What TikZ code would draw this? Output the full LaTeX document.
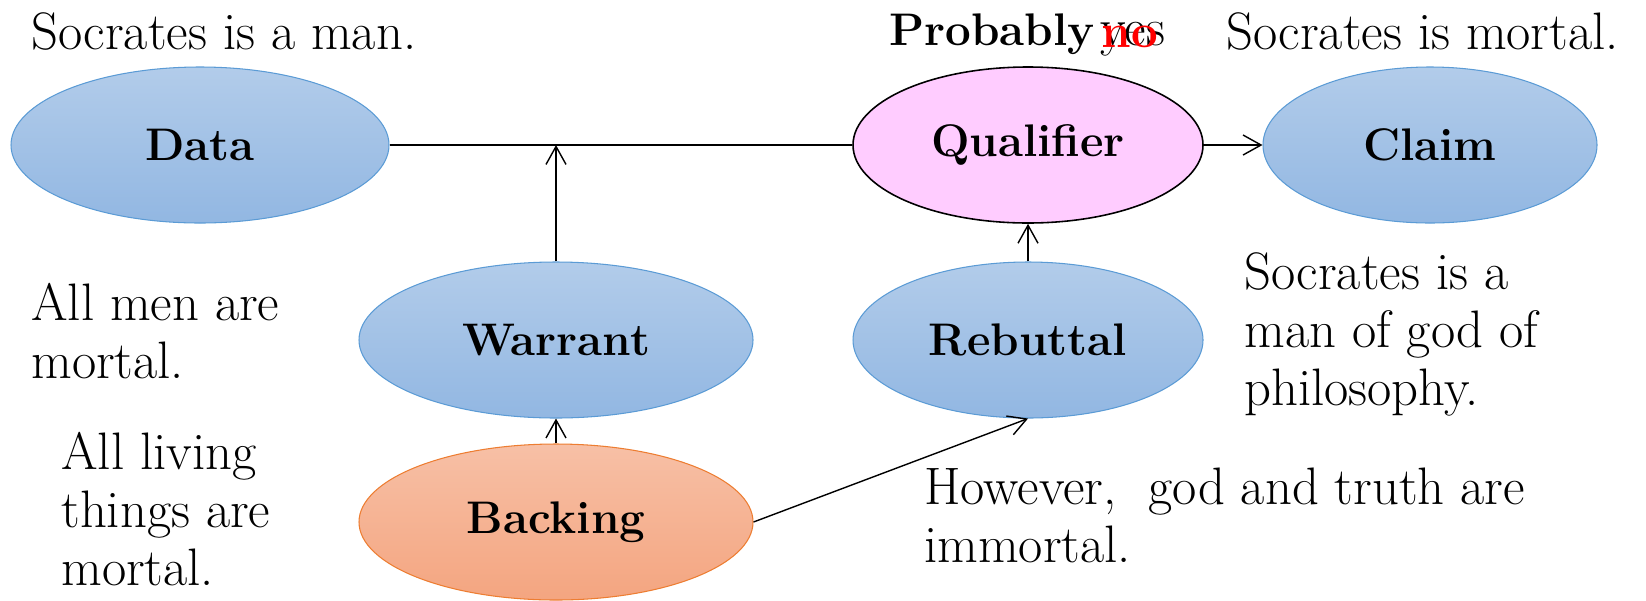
\documentclass[tikz,border=0pt]{standalone}
\usepackage{amsmath}
\usepackage{tikz}
\usetikzlibrary{shapes.geometric,arrows.meta}

\definecolor{blueTop}{RGB}{178,204,234}
\definecolor{blueBot}{RGB}{146,183,226}
\definecolor{blueEdge}{RGB}{91,155,213}
\definecolor{orangeTop}{RGB}{247,192,166}
\definecolor{orangeBot}{RGB}{244,165,128}
\definecolor{orangeEdge}{RGB}{237,125,49}
\definecolor{pinkFill}{RGB}{255,204,255}

\tikzset{
  part/.style={ellipse, minimum height=3.12cm, inner sep=0pt, line width=0.6pt,
    font=\fontsize{26}{31}\selectfont\bfseries},
  bluepart/.style={part, draw=blueEdge, top color=blueTop, bottom color=blueBot},
  txt/.style={anchor=base west, inner sep=0pt, align=left,
    font=\fontsize{30}{33}\selectfont},
  arr/.style={-{Straight Barb[length=3.6mm,width=4mm]}, thick},
}

\begin{document}
\begin{tikzpicture}
    \useasboundingbox (0,0) rectangle (32.92,-12);

    \node[bluepart, minimum width=7.56cm] (data) at (4.0,-2.9) {Data};
    \node[part, draw, line width=0.9pt, fill=pinkFill, minimum width=7.0cm] (qualifier) at (20.56,-2.9) {Qualifier};
    \node[bluepart, minimum width=6.68cm] (claim) at (28.6,-2.9) {Claim};
    \node[bluepart, minimum width=7.88cm] (warrant) at (11.12,-6.8) {Warrant};
    \node[bluepart, minimum width=7.0cm] (rebuttal) at (20.56,-6.8) {Rebuttal};
    \node[part, draw=orangeEdge, top color=orangeTop, bottom color=orangeBot,
        minimum width=7.88cm] (backing) at (11.12,-10.44) {Backing};

    \draw[thick] (data.east) -- (qualifier.west);
    \draw[arr] (warrant.north) -- (warrant.north |- data.east);
    \draw[arr] (qualifier.east) -- (claim.west);
    \draw[arr] (rebuttal.north) -- (qualifier.south);
    \draw[arr] (backing.north) -- (warrant.south);
    \draw[arr] (backing.east) -- (rebuttal.south);

    \node[txt] (man) at (0.62,-0.98) {Socrates is a man.};
    \node[txt] (mortal) at (24.52,-0.98) {Socrates is mortal.};
    \node[txt, font=\fontsize{26}{31}\selectfont\bfseries] (probably) at (17.78,-0.9) {Probably};
    \node[txt] (yes) at (22.0,-0.9) {yes};
    \node[txt, text=red, font=\fontsize{27}{32}\selectfont\bfseries] (no) at (22.02,-0.94) {no};

    \node[txt] (allmen) at (0.62,-7.56) {All men are\\mortal.};
    \node[txt] (living) at (1.22,-11.7) {All living\\things are\\mortal.};
    \node[txt] (godof) at (24.88,-8.1) {Socrates is a\\man of god of\\philosophy.};
    \node[txt] (however) at (18.48,-11.24) {However,\ \ god and truth are\\immortal.};
\end{tikzpicture}
\end{document}
